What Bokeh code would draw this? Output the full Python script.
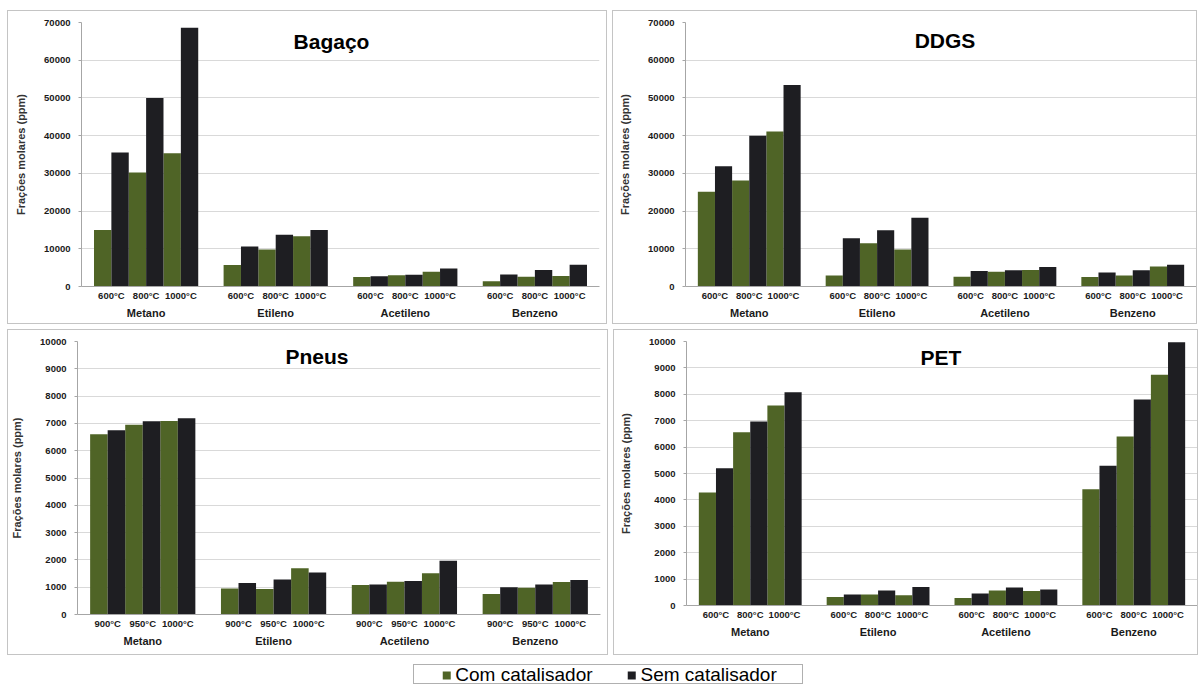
from bokeh.plotting import figure
from bokeh.models import FactorRange, Label, Legend, LegendItem, FixedTicker, Spacer, ColumnDataSource, NumeralTickFormatter
from bokeh.transform import dodge
from bokeh.layouts import column, row
from bokeh.embed import file_html
from bokeh.resources import INLINE

categories = ["Metano", "Etileno", "Acetileno", "Benzeno"]
temps_std = ["600°C", "800°C", "1000°C"]
temps_pneus = ["900°C", "950°C", "1000°C"]
series_names = ["Com catalisador", "Sem catalisador"]

bagaco_com = [15000, 30200, 35300, 5700, 9800, 13300, 2500, 3000, 3900, 1400, 2600, 2800]
bagaco_sem = [35500, 50000, 68600, 10600, 13700, 15000, 2700, 3100, 4800, 3200, 4400, 5800]
ddgs_com = [25100, 28100, 41100, 2900, 11500, 9800, 2600, 3900, 4400, 2500, 2900, 5300]
ddgs_sem = [31900, 40000, 53400, 12800, 14900, 18200, 4100, 4300, 5200, 3700, 4300, 5800]
pneus_com = [6600, 6950, 7090, 950, 930, 1690, 1080, 1200, 1510, 750, 980, 1190]
pneus_sem = [6750, 7080, 7190, 1150, 1280, 1540, 1100, 1230, 1970, 1000, 1100, 1260]
pet_com = [4280, 6560, 7580, 320, 420, 390, 280, 570, 550, 4400, 6400, 8740]
pet_sem = [5200, 6970, 8080, 420, 570, 700, 450, 680, 610, 5290, 7800, 9970]

GREEN = "#4f6426"
BLACK = "#1e1e22"
FONT = "Liberation Sans"
TXT = "#1a1a1a"
BOX = "1px solid #c4c4c4"


def panel(title, temps, com, sem, ymax, ystep, fw, fh, bl, br, bt, bb, tdx, tdy):
    factors = [(c, t) for c in categories for t in temps]
    xr = FactorRange(*factors, factor_padding=0.0, group_padding=0.73,
                     range_padding=0.36, range_padding_units="absolute")
    p = figure(x_range=xr, y_range=(0, ymax), frame_width=fw, frame_height=fh,
               min_border_left=bl, min_border_right=br, min_border_top=bt,
               min_border_bottom=bb, toolbar_location=None, output_backend="svg",
               styles={"border": BOX})
    src = ColumnDataSource(dict(x=factors, com=com, sem=sem))
    p.vbar(x=dodge("x", -0.25, range=xr), top="com", width=0.5, source=src,
           fill_color=GREEN, line_color=None)
    p.vbar(x=dodge("x", 0.25, range=xr), top="sem", width=0.5, source=src,
           fill_color=BLACK, line_color=None)

    p.outline_line_color = None
    p.xgrid.grid_line_color = None
    p.ygrid.grid_line_color = "#d9d9d9"
    p.ygrid.grid_line_width = 1

    p.yaxis.ticker = FixedTicker(ticks=list(range(0, ymax + 1, ystep)))
    p.yaxis.formatter = NumeralTickFormatter(format="0")
    p.yaxis.axis_line_color = "#a6a6a6"
    p.yaxis.major_tick_line_color = "#a6a6a6"
    p.yaxis.major_tick_out = 3
    p.yaxis.major_tick_in = 0
    p.yaxis.minor_tick_line_color = None
    p.yaxis.major_label_standoff = 8
    p.yaxis.major_label_text_font = FONT
    p.yaxis.major_label_text_font_size = "9.5px"
    p.yaxis.major_label_text_font_style = "bold"
    p.yaxis.major_label_text_color = TXT
    p.yaxis.axis_label = "Frações molares (ppm)"
    p.yaxis.axis_label_text_font = FONT
    p.yaxis.axis_label_text_font_size = "11px"
    p.yaxis.axis_label_text_font_style = "bold"
    p.yaxis.axis_label_text_color = "#333333"
    p.yaxis.axis_label_standoff = 14

    p.xaxis.axis_line_color = "#a6a6a6"
    p.xaxis.major_tick_line_color = None
    p.xaxis.major_tick_out = 0
    p.xaxis.major_tick_in = 0
    p.xaxis.minor_tick_line_color = None
    p.xaxis.major_label_standoff = 3
    p.xaxis.major_label_text_font = FONT
    p.xaxis.major_label_text_font_size = "9.5px"
    p.xaxis.major_label_text_font_style = "bold"
    p.xaxis.major_label_text_color = TXT
    p.xaxis.group_text_font = FONT
    p.xaxis.group_text_font_size = "11px"
    p.xaxis.group_text_font_style = "bold"
    p.xaxis.group_text_color = TXT
    p.xaxis.separator_line_color = None

    p.add_layout(Label(x=fw / 2 + tdx, y=fh - tdy, x_units="screen", y_units="screen",
                       text=title, text_align="center", text_baseline="middle",
                       text_font=FONT, text_font_size="21px", text_font_style="bold",
                       text_color="#000000"))
    return p


p1 = panel("Bagaço", temps_std, bagaco_com, bagaco_sem, 70000, 10000,
           516, 262, 73, 9, 11, 39, -8, 17)
p2 = panel("DDGS", temps_std, ddgs_com, ddgs_sem, 70000, 10000,
           509, 262, 72, 2, 11, 39, 5, 16)
p3 = panel("Pneus", temps_pneus, pneus_com, pneus_sem, 10000, 1000,
           521, 271, 68, 9, 11, 42, -21, 13)
p4 = panel("PET", temps_std, pet_com, pet_sem, 10000, 1000,
           509, 262, 72, 2, 11, 51, 0, 14)

leg = figure(width=390, height=20, toolbar_location=None, output_backend="svg",
             min_border=0, x_range=(0, 1), y_range=(0, 1),
             styles={"border": "1px solid #b0b0b0"})
leg.axis.visible = False
leg.grid.visible = False
leg.outline_line_color = None
leg_src = ColumnDataSource(dict(x=[0.5], top=[0.5]))
r1 = leg.vbar(x="x", top="top", width=0.1, source=leg_src, fill_color=GREEN,
              line_color=None, visible=False)
r2 = leg.vbar(x="x", top="top", width=0.1, source=leg_src, fill_color=BLACK,
              line_color=None, visible=False)
legend = Legend(items=[LegendItem(label=series_names[0], renderers=[r1]),
                       LegendItem(label=series_names[1], renderers=[r2])],
                orientation="horizontal", location="center", border_line_color=None,
                background_fill_alpha=0, label_text_font=FONT, label_text_font_size="19px",
                label_text_color="#000000", glyph_width=10, glyph_height=10,
                spacing=34, padding=0, margin=0, label_standoff=4, label_height=18)
leg.add_layout(legend, "center")

layout = column(
    Spacer(height=10),
    row(Spacer(width=7), p1, Spacer(width=5), p2),
    Spacer(height=5),
    row(Spacer(width=7), p3, Spacer(width=5), p4),
    Spacer(height=9),
    row(Spacer(width=413), leg),
)

open("out.html", "w").write(file_html(layout, INLINE))
